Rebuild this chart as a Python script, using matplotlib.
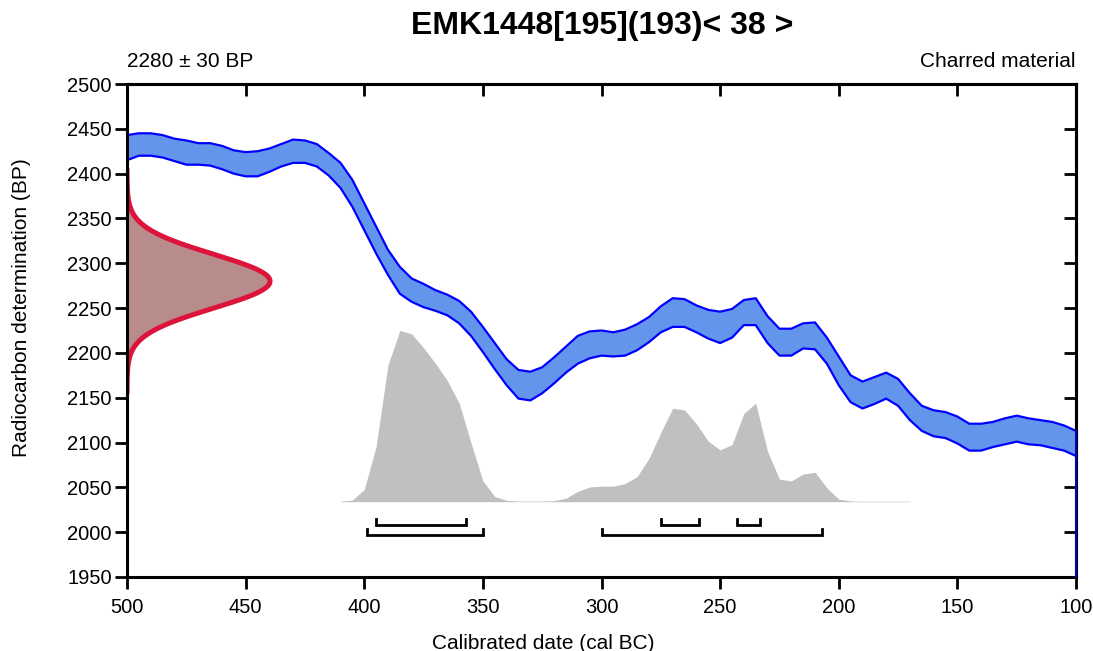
import numpy as np
import matplotlib
matplotlib.use("Agg")
import matplotlib.pyplot as plt

plt.rcParams['font.family'] = ['Liberation Sans', 'DejaVu Sans']

# ---------------- data ----------------
title = "EMK1448[195](193)< 38 >"
measurement_label = "2280 ± 30 BP"
material_label = "Charred material"
c14_age = 2280
c14_err = 30

# calibration curve band (cal BC, 5-year steps) upper / lower BP
cal_years = list(range(500, 95, -5))
cal_upper = [2443, 2445, 2445, 2443, 2439, 2437, 2434, 2434, 2431, 2426,
             2424, 2425, 2428, 2433, 2438, 2437, 2433, 2423, 2412, 2393,
             2367, 2341, 2315, 2296, 2283, 2277, 2270, 2265, 2258, 2246,
             2229, 2211, 2193, 2181, 2179, 2184, 2195, 2207, 2219, 2224,
             2225, 2223, 2226, 2232, 2240, 2252, 2261, 2260, 2253, 2248,
             2246, 2249, 2259, 2261, 2241, 2227, 2227, 2233, 2234, 2217,
             2196, 2175, 2168, 2173, 2178, 2171, 2155, 2141, 2136, 2134,
             2129, 2121, 2121, 2123, 2127, 2130, 2127, 2125, 2123, 2119,
             2113]
cal_lower = [2415, 2420, 2420, 2418, 2414, 2410, 2410, 2409, 2405, 2400,
             2397, 2397, 2402, 2408, 2412, 2412, 2408, 2398, 2384, 2363,
             2337, 2311, 2287, 2266, 2257, 2251, 2247, 2242, 2233, 2219,
             2201, 2182, 2164, 2149, 2147, 2155, 2166, 2178, 2188, 2194,
             2197, 2196, 2197, 2203, 2212, 2223, 2229, 2229, 2223, 2216,
             2211, 2217, 2231, 2231, 2211, 2197, 2197, 2205, 2204, 2188,
             2164, 2145, 2138, 2143, 2149, 2141, 2125, 2113, 2107, 2105,
             2099, 2091, 2091, 2095, 2098, 2101, 2098, 2097, 2094, 2091,
             2085]

# calibrated probability distribution (relative)
prob_years = [410, 405, 400, 395, 390, 385, 380, 375, 370, 365, 360, 355,
              350, 345, 340, 335, 330, 325, 320, 315, 310, 305, 300, 295,
              290, 285, 280, 275, 270, 265, 260, 255, 250, 245, 240, 235,
              230, 225, 220, 215, 210, 205, 200, 195, 190, 170]
prob_vals = [0.003, 0.01, 0.07, 0.32, 0.79, 0.99, 0.97, 0.89, 0.80, 0.70, 0.57, 0.34,
             0.12, 0.03, 0.008, 0.004, 0.004, 0.004, 0.006, 0.02, 0.06, 0.085, 0.09, 0.09,
             0.105, 0.145, 0.25, 0.40, 0.54, 0.53, 0.45, 0.35, 0.30, 0.33, 0.51, 0.57,
             0.29, 0.13, 0.12, 0.16, 0.17, 0.08, 0.015, 0.004, 0.003, 0.003]

# highest posterior density ranges (cal BC)
range_68 = [(395, 357), (275, 259), (243, 233)]
range_95 = [(399, 350), (300, 207)]

x_ticks = list(range(500, 99, -50))
y_ticks = list(range(1950, 2501, 50))

# ---------------- figure ----------------
W, H = 1093, 651
fig = plt.figure(figsize=(W / 100, H / 100), dpi=100)
ax = fig.add_axes([127 / W, 1 - 577 / H, 949 / W, 493 / H])
ax.set_xlim(500, 100)
ax.set_ylim(1950, 2500)

# grey probability
base = 2034
height = 193
pv = np.array(prob_vals)
ax.fill_between(prob_years, base, base + pv * height, color='#C0C0C0',
                linewidth=0, zorder=1)

# calibration band
ax.fill_between(cal_years, cal_lower, cal_upper, color='#6495ED',
                linewidth=0, zorder=2)
ax.plot(cal_years, cal_upper, color='#0000FF', lw=1.6, zorder=3)
ax.plot(cal_years, cal_lower, color='#0000FF', lw=1.6, zorder=3)
ax.plot([cal_years[-1], cal_years[-1]], [1950, cal_upper[-1]], color='#0000CC',
        lw=1.4, zorder=6, clip_on=False)

# radiocarbon measurement distribution
yy = np.linspace(c14_age - 4.2 * c14_err, c14_age + 4.2 * c14_err, 400)
amp = 60.3
xx = 500 - amp * np.exp(-0.5 * ((yy - c14_age) / c14_err) ** 2)
ax.fill_betweenx(yy, 500, xx, color='#B98C8C', linewidth=0, zorder=4)
ax.plot(xx, yy, color='#DC143C', lw=3.6, zorder=5, solid_capstyle='butt')

# ranges
tick_h = 6.5
for (a, b) in range_68:
    ax.plot([a, a, b, b], [2008 + tick_h, 2008, 2008, 2008 + tick_h],
            color='black', lw=2.0, zorder=5, solid_joinstyle='miter')
for (a, b) in range_95:
    ax.plot([a, a, b, b], [1997 + tick_h, 1997, 1997, 1997 + tick_h],
            color='black', lw=2.0, zorder=5, solid_joinstyle='miter')

# axes styling
for s in ax.spines.values():
    s.set_linewidth(2.2)
    s.set_zorder(5.5)
ax.set_xticks(x_ticks)
ax.set_yticks(y_ticks)
ax.tick_params(direction='out', length=8.8, width=2.0, labelsize=14.5)
ax.tick_params(axis='x', pad=6)
ax.tick_params(axis='y', pad=2.0)

secx = ax.secondary_xaxis('top')
secx.set_xticks(x_ticks)
secx.tick_params(direction='in', length=8.6, width=2.0, labeltop=False)
secx.spines['top'].set_linewidth(2.2)
secy = ax.secondary_yaxis('right')
secy.set_yticks(y_ticks)
secy.tick_params(direction='in', length=8.6, width=2.0, labelright=False)
secy.spines['right'].set_linewidth(2.2)

# texts
fig.text(602 / W, 1 - 34 / H, title, ha='center', va='baseline',
         fontsize=23, fontweight='bold')
fig.text(127 / W, 1 - 66.7 / H, measurement_label, ha='left', va='baseline',
         fontsize=15)
fig.text(1076 / W, 1 - 66.7 / H, material_label, ha='right', va='baseline',
         fontsize=15)
fig.text(543.5 / W, 1 - 649 / H, "Calibrated date (cal BC)", ha='center',
         va='baseline', fontsize=15)
fig.text(22 / W, 1 - 308 / H, "Radiocarbon determination (BP)", ha='center',
         va='center', rotation=90, fontsize=15)

fig.savefig("out.png", dpi=100)
